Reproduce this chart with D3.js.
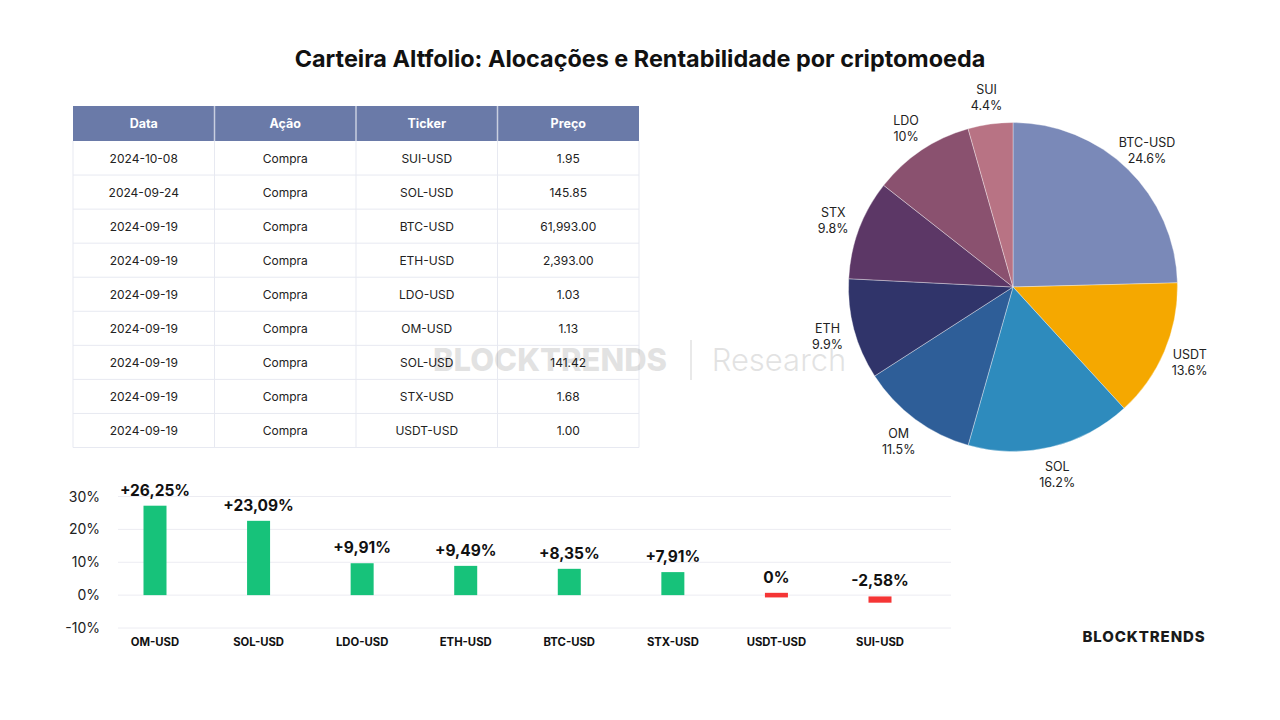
<!DOCTYPE html>
<html><head><meta charset="utf-8">
<script src="https://cdn.jsdelivr.net/npm/d3@7"></script>
<style>
html,body{margin:0;padding:0;background:#fff;}
svg{display:block;font-family:Inter,"Noto Sans",sans-serif;}
</style></head>
<body>
<svg id="c" width="1280" height="720"></svg>
<script>
// ---------- data ----------
const title = "Carteira Altfolio: Alocações e Rentabilidade por criptomoeda";

const tableHeader = ["Data", "Ação", "Ticker", "Preço"];
const tableDates   = ["2024-10-08","2024-09-24","2024-09-19","2024-09-19","2024-09-19","2024-09-19","2024-09-19","2024-09-19","2024-09-19"];
const tableActions = ["Compra","Compra","Compra","Compra","Compra","Compra","Compra","Compra","Compra"];
const tableTickers = ["SUI-USD","SOL-USD","BTC-USD","ETH-USD","LDO-USD","OM-USD","SOL-USD","STX-USD","USDT-USD"];
const tablePrices  = ["1.95","145.85","61,993.00","2,393.00","1.03","1.13","141.42","1.68","1.00"];

const pieLabels = ["BTC-USD","USDT","SOL","OM","ETH","STX","LDO","SUI"];
const pieValues = [24.6, 13.6, 16.2, 11.5, 9.9, 9.8, 10, 4.4];
const pieTexts  = ["24.6%","13.6%","16.2%","11.5%","9.9%","9.8%","10%","4.4%"];
const pieColors = ["#7a89b8","#f5a800","#2e8bbd","#2e5e98","#30346a","#5c3766","#8a516f","#b87384"];

const barCategories = ["OM-USD","SOL-USD","LDO-USD","ETH-USD","BTC-USD","STX-USD","USDT-USD","SUI-USD"];
const barTop        = [27.2, 22.6, 9.7, 8.9, 8.0, 7.0, 0.7, -0.4];
const barBottom     = [0, 0, 0, 0, 0, 0, -0.7, -2.3];
const barLabels     = ["+26,25%","+23,09%","+9,91%","+9,49%","+8,35%","+7,91%","0%","-2,58%"];
const barPositive   = [true, true, true, true, true, true, false, false];
const yTicks        = [-10, 0, 10, 20, 30];

// ---------- drawing ----------
const svg = d3.select("#c");

svg.append("text").attr("x", 640).attr("y", 67).attr("text-anchor", "middle")
  .attr("font-size", 23.4).attr("font-weight", 700).attr("fill", "#111")
  .text(title);

// table
const tX = d3.scaleBand().domain(d3.range(4)).range([73, 639]);
const tg = svg.append("g");
const hdrH = 35;
tg.append("rect").attr("x", 73).attr("y", 106).attr("width", 566).attr("height", hdrH).attr("fill", "#6a7aa8");
const rows = tableDates.map((d, i) => [d, tableActions[i], tableTickers[i], tablePrices[i]]);
const rowY = d3.scaleBand().domain(d3.range(rows.length)).range([106 + hdrH, 447.5]);
rows.forEach((r, i) => {
  tg.append("line").attr("x1", 73).attr("x2", 639).attr("y1", rowY(i) + rowY.bandwidth()).attr("y2", rowY(i) + rowY.bandwidth())
    .attr("stroke", "#e7e9f1").attr("stroke-width", 1);
});
d3.range(5).forEach(j => {
  const x = j < 4 ? tX(j) : 639;
  tg.append("line").attr("x1", x).attr("x2", x).attr("y1", 106 + hdrH).attr("y2", 447.5)
    .attr("stroke", "#e7e9f1");
  if (j > 0 && j < 4) tg.append("line").attr("x1", x).attr("x2", x).attr("y1", 106).attr("y2", 106 + hdrH)
    .attr("stroke", "#c9cfe0").attr("stroke-width", 1.5);
});
tableHeader.forEach((h, j) => {
  tg.append("text").attr("x", tX(j) + tX.bandwidth() / 2).attr("y", 106 + hdrH / 2 + 4.5)
    .attr("text-anchor", "middle").attr("font-size", 12.5).attr("font-weight", 700).attr("fill", "#fff").text(h);
});
rows.forEach((r, i) => {
  r.forEach((v, j) => {
    tg.append("text").attr("x", tX(j) + tX.bandwidth() / 2).attr("y", rowY(i) + rowY.bandwidth() / 2 + 4.5)
      .attr("text-anchor", "middle").attr("font-size", 12).attr("fill", "#222").text(v);
  });
});

// pie
const pcx = 1013, pcy = 287, pr = 164.5;
const pie = d3.pie().sort(null).value(d => d)(pieValues);
const arc = d3.arc().innerRadius(0).outerRadius(pr);
const lab = d3.arc().innerRadius(192).outerRadius(192);
const pg = svg.append("g").attr("transform", `translate(${pcx},${pcy})`);
pg.selectAll("path").data(pie).join("path").attr("d", arc)
  .attr("fill", (d, i) => pieColors[i]).attr("stroke", "#ffffff").attr("stroke-opacity", 0.45).attr("stroke-width", 0.8);
pie.forEach((d, i) => {
  const [x, y] = lab.centroid(d);
  const t = pg.append("text").attr("text-anchor", "middle").attr("font-size", 12.5).attr("fill", "#222");
  t.append("tspan").attr("x", x).attr("y", y - 3).text(pieLabels[i]);
  t.append("tspan").attr("x", x).attr("y", y + 13).text(pieTexts[i]);
});

// bar chart
const y = d3.scaleLinear().domain([-10, 30]).range([628, 496.5]);
const x = d3.scalePoint().domain(barCategories).range([155, 880]);
const bg = svg.append("g");
yTicks.forEach(t => {
  bg.append("line").attr("x1", 118).attr("x2", 951).attr("y1", y(t)).attr("y2", y(t)).attr("stroke", "#ececf2").attr("stroke-width", 1);
  bg.append("text").attr("x", 100).attr("y", y(t) + 5).attr("text-anchor", "end").attr("font-size", 14).attr("fill", "#222").text(t + "%");
});
const bw = 23;
barCategories.forEach((c, i) => {
  const top = y(barTop[i]), bot = y(barBottom[i]);
  bg.append("rect").attr("x", x(c) - bw / 2).attr("y", top).attr("width", bw).attr("height", bot - top)
    .attr("fill", barPositive[i] ? "#17c27a" : "#f53535");
  bg.append("text").attr("x", x(c)).attr("y", top - 10).attr("text-anchor", "middle")
    .attr("font-size", 15.5).attr("font-weight", 700).attr("fill", "#111").text(barLabels[i]);
  bg.append("text").attr("x", x(c)).attr("y", 646).attr("text-anchor", "middle")
    .attr("font-size", 11.3).attr("font-weight", 700).attr("fill", "#111").text(c);
});

// brand
svg.append("text").attr("x", 1144).attr("y", 642).attr("text-anchor", "middle")
  .attr("font-size", 15).attr("font-weight", 800).attr("fill", "#1a1a1a").attr("letter-spacing", 0.9).text("BLOCKTRENDS");

// watermark
const wm = svg.append("g").attr("opacity", 0.11);
wm.append("text").attr("x", 550).attr("y", 371).attr("text-anchor", "middle").attr("font-size", 31).attr("font-weight", 800)
  .attr("fill", "#000").text("BLOCKTRENDS");
wm.append("line").attr("x1", 691).attr("x2", 691).attr("y1", 340).attr("y2", 380).attr("stroke", "#000").attr("stroke-width", 1.5);
wm.append("text").attr("x", 779).attr("y", 371).attr("text-anchor", "middle").attr("font-size", 31).attr("font-weight", 300)
  .attr("fill", "#000").text("Research");
</script>
</body></html>
